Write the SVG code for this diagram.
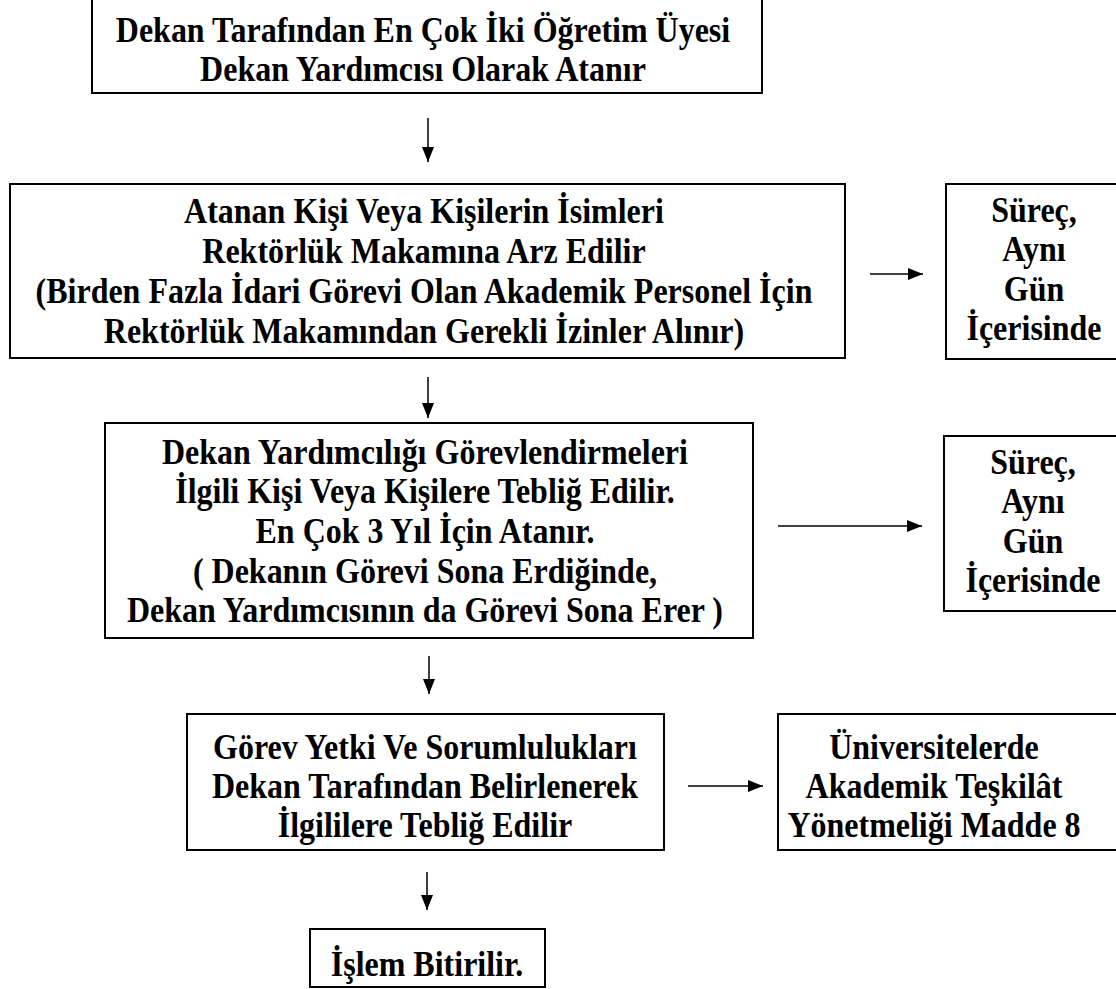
<svg xmlns="http://www.w3.org/2000/svg" width="1116" height="989" viewBox="0 0 1116 989">
<style>
.box{fill:#fff;stroke:#000;stroke-width:2}
.t{font-family:"Liberation Serif","Times New Roman",serif;font-weight:bold;font-size:32px;fill:#000;text-anchor:middle}
.c{stroke:#000;stroke-width:1.5;fill:none}
</style>
<defs>
<marker id="ah" viewBox="0 0 15 12" refX="15" refY="6" markerWidth="15" markerHeight="12" markerUnits="userSpaceOnUse" orient="auto"><path d="M0,0 L15,6 L0,12 Z" fill="#000"/></marker>
</defs>
<rect width="1116" height="989" fill="#fff"/>
<g id="n1"><rect class="box" x="92" y="-3" width="670" height="96"/>
<text class="t" x="423" y="42" transform="matrix(1 0 0 1.1 0 -4.2)">Dekan Tarafından En Çok İki Öğretim Üyesi</text>
<text class="t" x="423" y="81" transform="matrix(1 0 0 1.1 0 -8.1)">Dekan Yardımcısı Olarak Atanır</text></g>
<g id="n2"><rect class="box" x="10" y="184" width="835" height="174"/>
<text class="t" x="424" y="223" transform="matrix(1 0 0 1.1 0 -22.3)">Atanan Kişi Veya Kişilerin İsimleri</text>
<text class="t" x="424" y="263" transform="matrix(1 0 0 1.1 0 -26.3)">Rektörlük Makamına Arz Edilir</text>
<text class="t" x="424" y="303" transform="matrix(1 0 0 1.1 0 -30.3)">(Birden Fazla İdari Görevi Olan Akademik Personel İçin</text>
<text class="t" x="424" y="343" transform="matrix(1 0 0 1.1 0 -34.3)">Rektörlük Makamından Gerekli İzinler Alınır)</text></g>
<g id="n3"><rect class="box" x="946" y="184" width="180" height="175"/>
<text class="t" x="1034" y="222" transform="matrix(1 0 0 1.1 0 -22.2)">Süreç,</text>
<text class="t" x="1034" y="261" transform="matrix(1 0 0 1.1 0 -26.1)">Aynı</text>
<text class="t" x="1034" y="301" transform="matrix(1 0 0 1.1 0 -30.1)">Gün</text>
<text class="t" x="1034" y="340" transform="matrix(1 0 0 1.1 0 -34)">İçerisinde</text></g>
<g id="n4"><rect class="box" x="105" y="423" width="648" height="215"/>
<text class="t" x="425" y="464" transform="matrix(1 0 0 1.1 0 -46.4)">Dekan Yardımcılığı Görevlendirmeleri</text>
<text class="t" x="425" y="503" transform="matrix(1 0 0 1.1 0 -50.3)">İlgili Kişi Veya Kişilere Tebliğ Edilir.</text>
<text class="t" x="425" y="543" transform="matrix(1 0 0 1.1 0 -54.3)">En Çok 3 Yıl İçin Atanır.</text>
<text class="t" x="425" y="583" transform="matrix(1 0 0 1.1 0 -58.3)">( Dekanın Görevi Sona Erdiğinde,</text>
<text class="t" x="425" y="622" transform="matrix(1 0 0 1.1 0 -62.2)">Dekan Yardımcısının da Görevi Sona Erer )</text></g>
<g id="n5"><rect class="box" x="944" y="436" width="180" height="175"/>
<text class="t" x="1033" y="474" transform="matrix(1 0 0 1.1 0 -47.4)">Süreç,</text>
<text class="t" x="1033" y="513" transform="matrix(1 0 0 1.1 0 -51.3)">Aynı</text>
<text class="t" x="1033" y="553" transform="matrix(1 0 0 1.1 0 -55.3)">Gün</text>
<text class="t" x="1033" y="592" transform="matrix(1 0 0 1.1 0 -59.2)">İçerisinde</text></g>
<g id="n6"><rect class="box" x="187" y="714" width="477" height="136"/>
<text class="t" x="425" y="759" transform="matrix(1 0 0 1.1 0 -75.9)">Görev Yetki Ve Sorumlulukları</text>
<text class="t" x="425" y="798" transform="matrix(1 0 0 1.1 0 -79.8)">Dekan Tarafından Belirlenerek</text>
<text class="t" x="425" y="837" transform="matrix(1 0 0 1.1 0 -83.7)">İlgililere Tebliğ Edilir</text></g>
<g id="n7"><rect class="box" x="778" y="714" width="345" height="136"/>
<text class="t" x="934" y="759" transform="matrix(1 0 0 1.1 0 -75.9)">Üniversitelerde</text>
<text class="t" x="934" y="798" transform="matrix(1 0 0 1.1 0 -79.8)">Akademik Teşkilât</text>
<text class="t" x="934" y="837" transform="matrix(1 0 0 1.1 0 -83.7)">Yönetmeliği Madde 8</text></g>
<g id="n8"><rect class="box" x="310" y="929" width="235" height="58"/>
<text class="t" x="427" y="976" transform="matrix(1 0 0 1.1 0 -97.6)">İşlem Bitirilir.</text></g>
<g id="connectors">
<line class="c" x1="428" y1="118" x2="428" y2="162" marker-end="url(#ah)"/>
<line class="c" x1="428" y1="377" x2="428" y2="418" marker-end="url(#ah)"/>
<line class="c" x1="429" y1="656" x2="429" y2="694" marker-end="url(#ah)"/>
<line class="c" x1="427" y1="872" x2="427" y2="910" marker-end="url(#ah)"/>
<line class="c" x1="870" y1="274" x2="923" y2="274" marker-end="url(#ah)"/>
<line class="c" x1="778" y1="526" x2="922" y2="526" marker-end="url(#ah)"/>
<line class="c" x1="688" y1="786" x2="763" y2="786" marker-end="url(#ah)"/>
</g>
</svg>
